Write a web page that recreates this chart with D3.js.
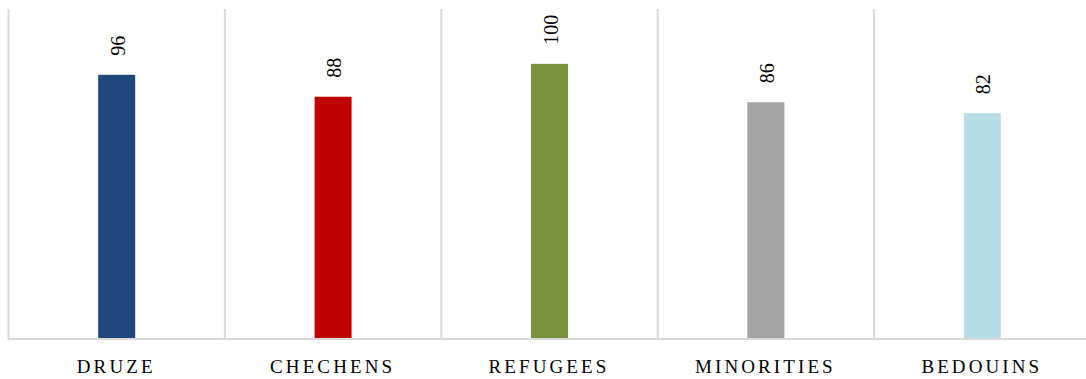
<!DOCTYPE html>
<html>
<head>
<meta charset="utf-8">
<script src="https://cdn.jsdelivr.net/npm/d3@7"></script>
<style>
  html, body { margin: 0; padding: 0; background: #fff; }
  svg { display: block; }
  .xaxis text { font-family: "Liberation Serif", serif; font-size: 19px; letter-spacing: 3.1px; fill: #000; }
  .val { font-family: "Liberation Serif", serif; font-size: 20px; fill: #000; }
</style>
</head>
<body>
<svg id="chart" width="1086" height="379"></svg>
<script>
// Groups and their values
const categories = ["DRUZE", "CHECHENS", "REFUGEES", "MINORITIES", "BEDOUINS"];
const values = [96, 88, 100, 86, 82];
const colors = ["#1F497D", "#C00000", "#77933C", "#A5A5A5", "#B7DEE8"];

const svg = d3.select("#chart");
const left = 8.5, bandW = 216.4;
const x = d3.scaleBand()
  .domain(categories)
  .range([left, left + bandW * categories.length])
  .paddingInner(0).paddingOuter(0);
const y = d3.scaleLinear().domain([0, 120]).range([338, 9]);

// vertical separators between groups
const edges = categories.map(c => x(c)).concat([x.range()[1]]);
svg.append("g").selectAll("line").data(edges).join("line")
  .attr("x1", d => d).attr("x2", d => d)
  .attr("y1", y(120)).attr("y2", y(0))
  .attr("stroke", "#D9D9D9").attr("stroke-width", 2);

// bars
const barW = 37;
svg.append("g").selectAll("rect").data(values).join("rect")
  .attr("x", (d, i) => x(categories[i]) + x.bandwidth() / 2 - barW / 2)
  .attr("width", barW)
  .attr("y", d => y(d))
  .attr("height", d => y(0) - y(d))
  .attr("fill", (d, i) => colors[i]);

// baseline
svg.append("line")
  .attr("x1", left - 1).attr("x2", 1086)
  .attr("y1", y(0) + 1).attr("y2", y(0) + 1)
  .attr("stroke", "#D9D9D9").attr("stroke-width", 2);

// value labels, rotated
svg.append("g").selectAll("text").data(values).join("text")
  .attr("class", "val")
  .attr("transform", (d, i) => {
    const cx = x(categories[i]) + x.bandwidth() / 2;
    return `translate(${cx + 1},${y(d) - 19}) rotate(-90)`;
  })
  .attr("text-anchor", "start")
  .attr("dominant-baseline", "central")
  .text(d => d);

// category axis
const axis = d3.axisBottom(x).tickSize(0).tickPadding(0);
const gx = svg.append("g").attr("class", "xaxis")
  .attr("transform", `translate(0,${y(0)})`)
  .call(axis);
gx.select(".domain").remove();
gx.selectAll("text").attr("y", 34.5).attr("dy", 0).attr("dx", "-0.5px");
</script>
</body>
</html>
